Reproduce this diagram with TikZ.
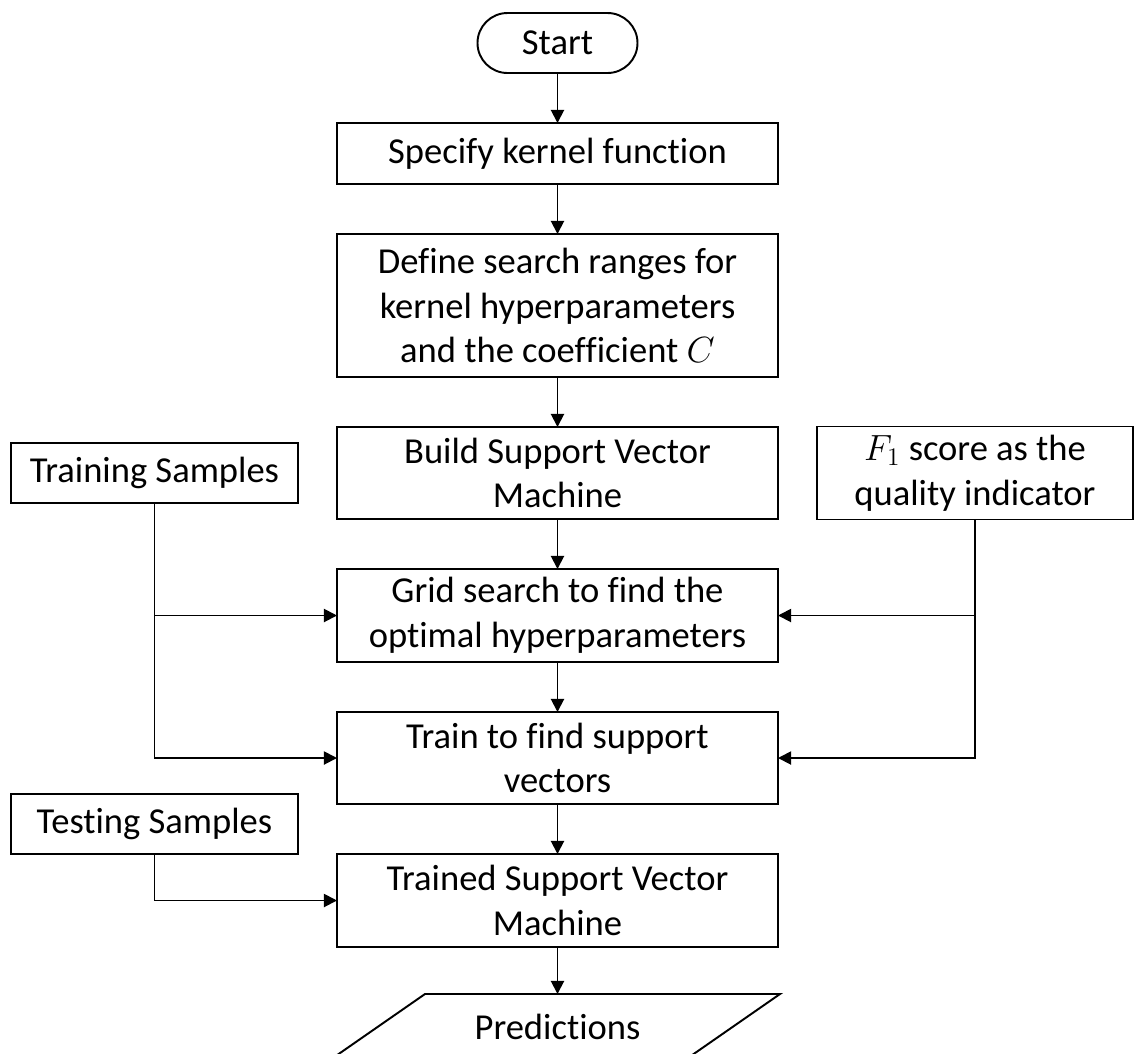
\documentclass[tikz,border=0pt]{standalone}
\usepackage{amsmath}
\usepackage{fontspec}
\setmainfont{Carlito}[RawFeature={-liga;-clig;-calt;-dlig}]
\usetikzlibrary{positioning,arrows.meta}

\newcommand{\nolig}{\kern0pt}
\tikzset{
  boxline/.style={line width=1.1pt},
  stepbox/.style={boxline, draw, rectangle, align=center, outer sep=0pt,
                  minimum width=8.82cm, font=\fontsize{20.8pt}{25.4pt}\selectfont},
  sidebox/.style={stepbox, minimum width=5.74cm, minimum height=1.2cm},
  arr/.style={boxline, -{Triangle[length=7.5pt,width=7.5pt]}}
}

\begin{document}
\begin{tikzpicture}[node distance=1cm]
\useasboundingbox (0,0) rectangle (22.68,-21.06);

\node[stepbox, rounded corners=0.6cm, minimum width=3.2cm, minimum height=1.2cm] (start) at (11.15,-0.86) {Start};
\node[stepbox, minimum height=1.22cm, below=of start] (kernel) {Specify kernel funct\nolig ion};
\node[stepbox, minimum height=2.86cm, below=of kernel] (ranges) {Def\nolig ine search ranges for\\kernel hyperparameters\\and the coef\nolig f\nolig ic\nolig ient $C$};
\node[stepbox, minimum height=1.84cm, below=of ranges] (build) {Build Support Vector\\Machine};
\node[stepbox, minimum height=1.86cm, below=of build] (grid) {Grid search to f\nolig ind the\\opt\nolig imal hyperparameters};
\node[stepbox, minimum height=1.84cm, below=of grid] (fit) {Train to f\nolig ind support\\vectors};
\node[stepbox, minimum height=1.86cm, below=of fit] (trained) {Trained Support Vector\\Machine};
\node[stepbox, draw=none, minimum height=1.32cm, below=0.94cm of trained] (pred) {Predict\nolig ions};
\draw[boxline] ([xshift=-2.65cm]pred.north) -- ([xshift=4.45cm]pred.north)
  -- ([xshift=2.55cm]pred.south) -- ([xshift=-4.55cm]pred.south) -- cycle;

\node[sidebox, left=0.78cm of build] (trainset) {Training Samples};
\node[sidebox, minimum width=6.32cm, minimum height=1.86cm, right=0.78cm of build] (quality) {$F_1$ score as the\\quality indicator};
\node[sidebox, anchor=south east] (testset) at ([xshift=-0.78cm]trained.north west) {Test\nolig ing Samples};

\draw[arr] (start) -- (kernel);
\draw[arr] (kernel) -- (ranges);
\draw[arr] (ranges) -- (build);
\draw[arr] (build) -- (grid);
\draw[arr] (grid) -- (fit);
\draw[arr] (fit) -- (trained);
\draw[arr] (trained) -- (pred);
\draw[arr] (trainset.south) |- (grid.west);
\draw[arr] (trainset.south) |- (fit.west);
\draw[arr] (quality.south) |- (grid.east);
\draw[arr] (quality.south) |- (fit.east);
\draw[arr] (testset.south) |- (trained.west);
\end{tikzpicture}
\end{document}
